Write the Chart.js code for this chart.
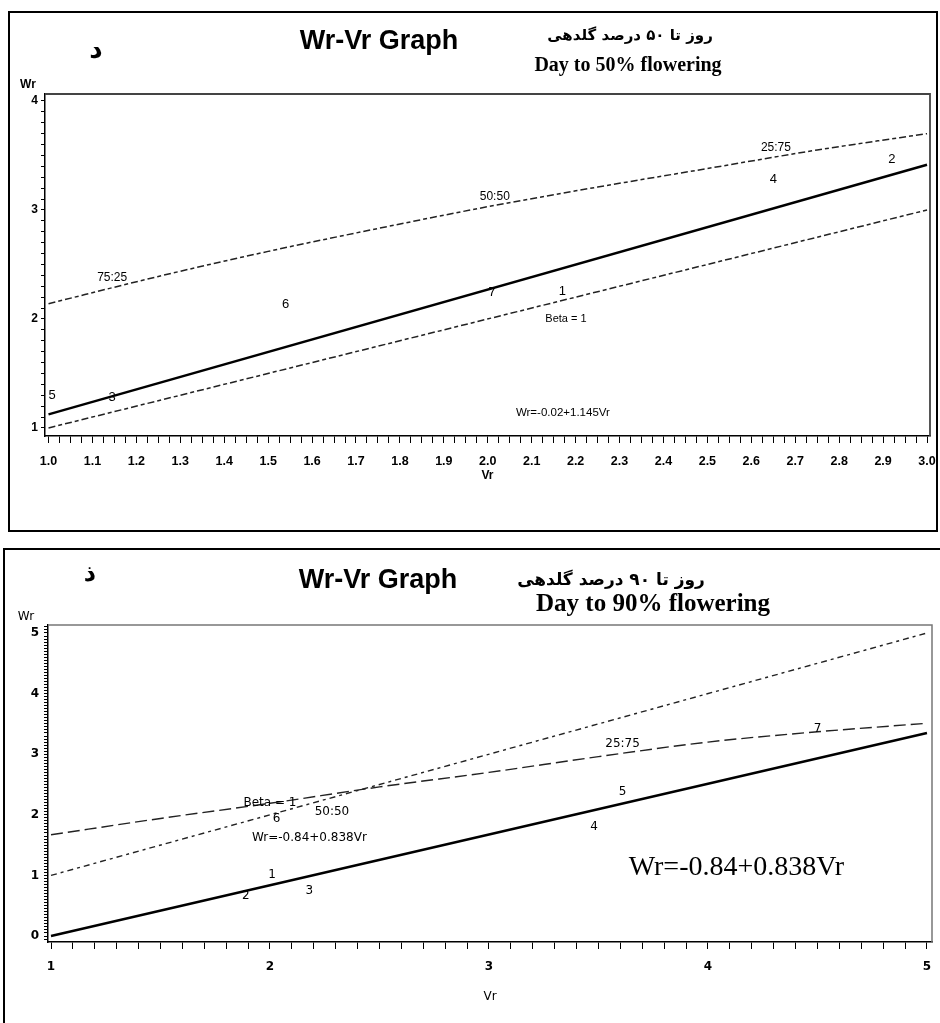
<!DOCTYPE html>
<html>
<head>
<meta charset="utf-8">
<script src="https://cdn.jsdelivr.net/npm/chart.js@4/dist/chart.umd.min.js"></script>
<style>
  html,body{margin:0;padding:0;background:#fff;}
  body{width:940px;height:1023px;position:relative;overflow:hidden;}
  .box{position:absolute;border:2px solid #000;box-sizing:border-box;}
  .t{position:absolute;white-space:nowrap;line-height:1;transform:translate(-50%,-50%);color:#000;}
  canvas{position:absolute;left:0;}
</style>
</head>
<body>
<div class="box" style="left:8px;top:11px;width:930px;height:521px;"></div>
<div class="box" style="left:3px;top:548px;width:960px;height:520px;"></div>

<canvas id="c1" width="940" height="530" style="top:0;width:940px;height:530px;"></canvas>
<canvas id="c2" width="940" height="483" style="top:540px;width:940px;height:483px;"></canvas>

<!-- panel 1 texts -->
<div class="t" style="left:96px;top:49px;font:bold 26px 'DejaVu Sans';">د</div>
<div class="t" style="left:379px;top:40px;font:bold 27px 'Liberation Sans',Arial,sans-serif;">Wr-Vr Graph</div>
<div class="t" dir="rtl" style="left:630px;top:35px;font:bold 15px 'DejaVu Sans';">روز تا ۵۰ درصد گلدهی</div>
<div class="t" style="left:628px;top:64px;font:bold 20px 'Liberation Serif','Times New Roman',serif;">Day to 50% flowering</div>
<div class="t" style="left:28px;top:84px;font:bold 12px 'Liberation Sans',Arial,sans-serif;">Wr</div>

<!-- panel 2 texts -->
<div class="t" style="left:90px;top:573px;font:bold 24px 'DejaVu Sans';">ذ</div>
<div class="t" style="left:378px;top:579px;font:bold 27px 'Liberation Sans',Arial,sans-serif;">Wr-Vr Graph</div>
<div class="t" dir="rtl" style="left:611px;top:579px;font:bold 17px 'DejaVu Sans';">روز تا ۹۰ درصد گلدهی</div>
<div class="t" style="left:653px;top:603px;font:bold 25px 'Liberation Serif','Times New Roman',serif;">Day to 90% flowering</div>
<div class="t" style="left:26px;top:616px;font:12px 'DejaVu Sans',sans-serif;">Wr</div>

<script>
// ---------- Panel 1: Day to 50% flowering ----------
const p1Parents = ['1','2','3','4','5','6','7'];
const p1Vr = [2.17, 2.92, 1.145, 2.65, 1.008, 1.54, 2.01];
const p1Wr = [2.25, 3.46, 1.28, 3.28, 1.30, 2.13, 2.24];
const p1RegVr = [1.0, 3.0];
const p1RegWr = [1.125, 3.415];
const p1BetaVr = [1.0, 3.0];
const p1BetaWr = [1.0, 3.0];
const p1LimitVr = [1.0, 1.25, 1.5, 1.75, 2.0, 2.25, 2.5, 2.75, 3.0];
const p1LimitWr = [2.14, 2.39, 2.62, 2.83, 3.03, 3.21, 3.38, 3.55, 3.70];
const p1Notes = ['75:25', '50:50', '25:75', 'Beta = 1', 'Wr=-0.02+1.145Vr'];
const p1NoteVr = [1.145, 2.016, 2.656, 2.178, 2.171];
const p1NoteWr = [2.376, 3.12, 3.57, 2.0, 1.14];
const p1XTickLabels = ['1.0','1.1','1.2','1.3','1.4','1.5','1.6','1.7','1.8','1.9','2.0','2.1','2.2','2.3','2.4','2.5','2.6','2.7','2.8','2.9','3.0'];
const p1YTickLabels = ['1','2','3','4'];

// ---------- Panel 2: Day to 90% flowering ----------
const p2Parents = ['1','2','3','4','5','6','7'];
const p2Vr = [2.01, 1.89, 2.18, 3.48, 3.61, 2.03, 4.50];
const p2Wr = [1.01, 0.66, 0.74, 1.80, 2.38, 1.93, 3.42];
const p2RegVr = [1.0, 5.0];
const p2RegWr = [0.0, 3.35];
const p2BetaVr = [1.0, 5.0];
const p2BetaWr = [1.0, 5.0];
const p2LimitVr = [1.0, 1.5, 2.0, 2.5, 3.0, 3.5, 4.0, 4.5, 5.0];
const p2LimitWr = [1.67, 1.94, 2.19, 2.46, 2.70, 2.96, 3.20, 3.37, 3.51];
const p2Notes = ['Beta = 1', '50:50', 'Wr=-0.84+0.838Vr', '25:75', 'Wr=-0.84+0.838Vr'];
const p2NoteVr = [2.0, 2.283, 2.18, 3.61, 4.13];
const p2NoteWr = [2.19, 2.05, 1.62, 3.17, 1.12];
const p2XTickLabels = ['1','2','3','4','5'];
const p2YTickLabels = ['0','1','2','3','4','5'];

// ---------- styles ----------
const SANS = "'Liberation Sans',Arial,sans-serif";
const DEJAVU = "'DejaVu Sans',sans-serif";
const SERIF = "'Liberation Serif','Times New Roman',serif";
const p1NoteFont = ['12px ' + SANS, '12px ' + SANS, '12px ' + SANS, '11px ' + SANS, '11.5px ' + SANS];
const p2NoteFont = ['12px ' + DEJAVU, '12px ' + DEJAVU, '12px ' + DEJAVU, '12px ' + DEJAVU, '28px ' + SERIF];

function pts(xs, ys){ return xs.map((v,i)=>({x:v, y:ys[i]})); }

function makeLabels(texts, xs, ys, fonts){
  return {
    id: 'textLabels',
    afterDatasetsDraw(chart){
      const {ctx, scales} = chart;
      ctx.save();
      ctx.fillStyle = '#000';
      ctx.textAlign = 'center';
      ctx.textBaseline = 'middle';
      texts.forEach((t,i)=>{
        ctx.font = fonts[i];
        ctx.fillText(t, scales.x.getPixelForValue(xs[i]), scales.y.getPixelForValue(ys[i]));
      });
      ctx.restore();
    }
  };
}
function makeFrame(color, width){
  return {
    id: 'frame',
    beforeDatasetsDraw(chart){
      const {ctx, chartArea:a} = chart;
      ctx.save();
      ctx.strokeStyle = color; ctx.lineWidth = width;
      ctx.beginPath();
      ctx.moveTo(a.left, a.top); ctx.lineTo(a.right, a.top); ctx.lineTo(a.right, a.bottom);
      ctx.stroke();
      ctx.restore();
    }
  };
}
function tickLabel(labels){
  return function(v){
    const s = labels.find(l => Math.abs(parseFloat(l) - v) < 1e-6);
    return s === undefined ? '' : s;
  };
}
function fixX(h){ return function(s){ s.height = h; s.paddingLeft = 0; s.paddingRight = 0; }; }
function fixY(w){ return function(s){ s.width = w; s.paddingTop = 0; s.paddingBottom = 0; }; }

// ---------- Chart 1 ----------
new Chart(document.getElementById('c1'), {
  type: 'scatter',
  data: {
    datasets: [
      {data: pts(p1RegVr, p1RegWr), showLine:true, borderColor:'#000', borderWidth:2.4, pointRadius:0},
      {data: pts(p1BetaVr, p1BetaWr), showLine:true, borderColor:'#222', borderWidth:1.5, borderDash:[7,3,4,3], pointRadius:0},
      {data: pts(p1LimitVr, p1LimitWr), showLine:true, borderColor:'#222', borderWidth:1.5, borderDash:[7,3,4,3], pointRadius:0, cubicInterpolationMode:'monotone'},
      {data: pts(p1Vr, p1Wr), showLine:false, pointRadius:0}
    ]
  },
  options: {
    responsive:false, animation:false, events:[],
    layout:{padding:{left:0, top:94, right:10, bottom:43}},
    plugins:{legend:{display:false}, tooltip:{enabled:false}},
    scales:{
      x:{
        type:'linear', min:0.992, max:3.0068,
        afterFit: fixX(51),
        border:{display:true, color:'#000', width:1.5},
        grid:{drawOnChartArea:false, drawTicks:true, tickLength:7, tickColor:'#000', tickWidth:1},
        ticks:{stepSize:0.025, autoSkip:false, includeBounds:false, maxRotation:0, padding:11,
               color:'#000', font:{family:SANS, size:12.5, weight:'bold'}, callback: tickLabel(p1XTickLabels)},
        title:{display:true, text:'Vr', color:'#000', font:{family:SANS, size:12, weight:'bold'}, padding:{top:0, bottom:4}}
      },
      y:{
        type:'linear', min:0.926, max:4.064,
        afterFit: fixY(45),
        border:{display:true, color:'#000', width:1.5},
        grid:{drawOnChartArea:false, drawTicks:true, tickLength:4, tickColor:'#000', tickWidth:1},
        ticks:{stepSize:0.1, autoSkip:false, includeBounds:false, padding:3,
               color:'#000', font:{family:SANS, size:12, weight:'bold'}, callback: tickLabel(p1YTickLabels)}
      }
    }
  },
  plugins:[makeFrame('#444', 1.8), makeLabels(p1Parents.concat(p1Notes), p1Vr.concat(p1NoteVr), p1Wr.concat(p1NoteWr),
           p1Parents.map(()=> '13px ' + SANS).concat(p1NoteFont))]
});

// ---------- Chart 2 ----------
new Chart(document.getElementById('c2'), {
  type: 'scatter',
  data: {
    datasets: [
      {data: pts(p2RegVr, p2RegWr), showLine:true, borderColor:'#000', borderWidth:2.4, pointRadius:0},
      {data: pts(p2BetaVr, p2BetaWr), showLine:true, borderColor:'#222', borderWidth:1.4, borderDash:[6,4,3,4], pointRadius:0},
      {data: pts(p2LimitVr, p2LimitWr), showLine:true, borderColor:'#222', borderWidth:1.4, borderDash:[12,5], pointRadius:0, cubicInterpolationMode:'monotone'},
      {data: pts(p2Vr, p2Wr), showLine:false, pointRadius:0}
    ]
  },
  options: {
    responsive:false, animation:false, events:[],
    layout:{padding:{left:0, top:85, right:8, bottom:15}},
    plugins:{legend:{display:false}, tooltip:{enabled:false}},
    scales:{
      x:{
        type:'linear', min:0.9863, max:5.023,
        afterFit: fixX(66),
        border:{display:true, color:'#000', width:1.5},
        grid:{drawOnChartArea:false, drawTicks:true, tickLength:7, tickColor:'#000', tickWidth:1},
        ticks:{stepSize:0.1, autoSkip:false, includeBounds:false, maxRotation:0, padding:11,
               color:'#000', font:{family:DEJAVU, size:12, weight:'bold'}, callback: tickLabel(p2XTickLabels)},
        title:{display:true, text:'Vr', color:'#000', font:{family:DEJAVU, size:12}, padding:{top:0, bottom:4}}
      },
      y:{
        type:'linear', min:-0.099, max:5.132,
        afterFit: fixY(48),
        border:{display:true, color:'#000', width:1.5},
        grid:{drawOnChartArea:false, drawTicks:true, tickLength:4, tickColor:'#000', tickWidth:1},
        ticks:{stepSize:0.05, autoSkip:false, includeBounds:false, padding:5,
               color:'#000', font:{family:DEJAVU, size:12, weight:'bold'}, callback: tickLabel(p2YTickLabels)}
      }
    }
  },
  plugins:[makeFrame('#777', 1.5), makeLabels(p2Parents.concat(p2Notes), p2Vr.concat(p2NoteVr), p2Wr.concat(p2NoteWr),
           p2Parents.map(()=> '12px ' + DEJAVU).concat(p2NoteFont))]
});
</script>
</body>
</html>
